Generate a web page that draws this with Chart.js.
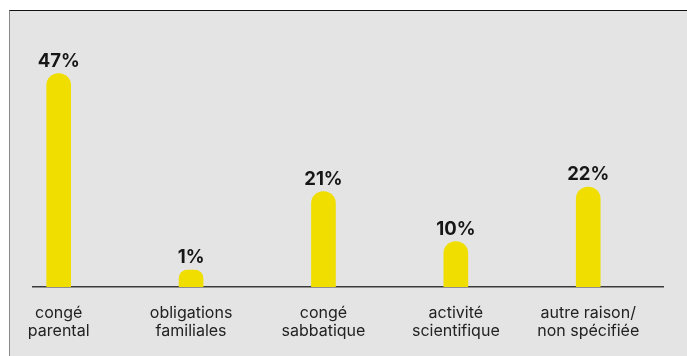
<!DOCTYPE html>
<html>
<head>
<meta charset="utf-8">
<script src="https://cdn.jsdelivr.net/npm/chart.js@4.4.1/dist/chart.umd.min.js"></script>
<style>
  html, body { margin: 0; padding: 0; background: #ffffff; }
  body { width: 687px; height: 356px; position: relative; overflow: hidden; }
  #panel {
    position: absolute; left: 9px; top: 10px; width: 677px; height: 345px;
    background: #e4e4e4; border-top: 1px solid #111; border-left: 1px solid #8a8a8a;
  }
  #c { display: block; }
</style>
</head>
<body>
<div id="panel"><canvas id="c" width="677" height="345"></canvas></div>
<script>
const categories = [
  ["congé", "parental"],
  ["obligations", "familiales"],
  ["congé", "sabbatique"],
  ["activité", "scientifique"],
  ["autre raison/", "non spécifiée"]
];
const values = [47, 1, 21, 10, 22];
const valueLabels = ["47%", "1%", "21%", "10%", "22%"];

const barLabelPlugin = {
  id: 'barLabels',
  afterDatasetsDraw(chart) {
    const ctx = chart.ctx;
    const meta = chart.getDatasetMeta(0);
    ctx.save();
    ctx.font = '700 18.5px Inter, "Noto Sans", sans-serif';
    ctx.fillStyle = '#161616';
    ctx.textAlign = 'center';
    ctx.textBaseline = 'alphabetic';
    meta.data.forEach((bar, i) => {
      ctx.fillText(valueLabels[i], bar.x, bar.y - 7);
    });
    ctx.restore();
  }
};

new Chart(document.getElementById('c'), {
  type: 'bar',
  data: {
    datasets: [{
      data: values.map((v, i) => ({ x: i, y: v })),
      backgroundColor: '#f0de00',
      borderWidth: 0,
      borderRadius: 12,
      borderSkipped: 'start',
      barThickness: 24,
      minBarLength: 17
    }]
  },
  options: {
    responsive: false,
    animation: false,
    layout: { padding: { left: 21, right: 24, top: 49, bottom: 0 } },
    plugins: { legend: { display: false }, tooltip: { enabled: false } },
    scales: {
      x: {
        type: 'linear',
        offset: false,
        min: -0.1943,
        max: 4.5648,
        grid: { display: false, drawTicks: false, offset: false },
        border: { display: true, color: '#3a3a3a', width: 1.5 },
        afterBuildTicks(scale) {
          scale.ticks = categories.map((_, i) => ({ value: i }));
        },
        afterFit(scale) {
          scale.height = 69;
        },
        ticks: {
          autoSkip: false,
          maxRotation: 0,
          padding: 17,
          color: '#222',
          font: { family: 'Inter, "Noto Sans", sans-serif', size: 16, lineHeight: 1.12 },
          callback: (v) => categories[v]
        }
      },
      y: {
        display: false,
        min: 0,
        max: 50
      }
    }
  },
  plugins: [barLabelPlugin]
});
</script>
</body>
</html>
